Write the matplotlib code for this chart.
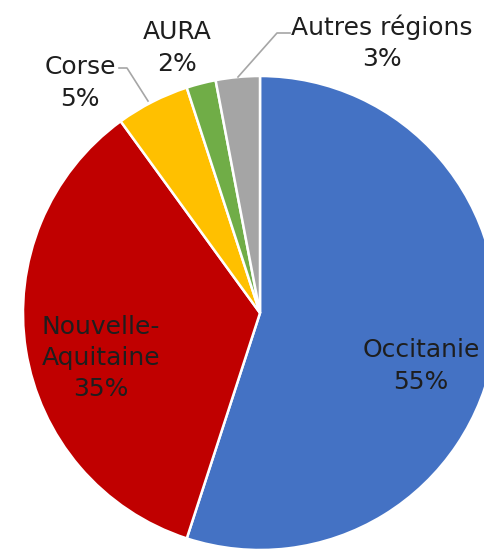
import matplotlib
matplotlib.use("Agg")
import matplotlib.pyplot as plt

plt.rcParams['font.family'] = ['DejaVu Sans']

regions = ['Occitanie', 'Nouvelle-\nAquitaine', 'Corse', 'AURA', 'Autres régions']
shares = [55, 35, 5, 2, 3]
colors = ['#4472C4', '#C00000', '#FFC000', '#70AD47', '#A5A5A5']

W, H = 485, 550
fig = plt.figure(figsize=(W / 100, H / 100), dpi=100)
ax = fig.add_axes([0, 0, 1, 1])

# pie centre / radius in pixel units (y measured from bottom)
cx, cy, r = 260, H - 313, 237
ax.pie(shares, colors=colors, startangle=90, counterclock=False,
       center=(cx, cy), radius=r, frame=True,
       wedgeprops=dict(edgecolor='white', linewidth=1.8))
ax.set_xlim(0, W)
ax.set_ylim(0, H)
ax.set_aspect('equal')
ax.axis('off')

txt = dict(ha='center', va='center', fontsize=18, color='#1e1e1e',
           linespacing=1.38)
labels = [f"{n}\n{v}%" for n, v in zip(regions, shares)]
ax.text(421, H - 366, labels[0], **txt)
ax.text(101, H - 358, labels[1], **txt)
ax.text(80, H - 83, labels[2], **txt)
ax.text(177, H - 48, labels[3], **txt)
ax.text(382, H - 43, labels[4], **txt)

# leader lines
lc = dict(color='#a6a6a6', lw=1.2)
ax.plot([119, 127, 148], [H - 68, H - 68, H - 101], **lc)
ax.plot([290, 277, 238], [H - 33, H - 33, H - 77], **lc)

fig.savefig('out.png', dpi=100)
